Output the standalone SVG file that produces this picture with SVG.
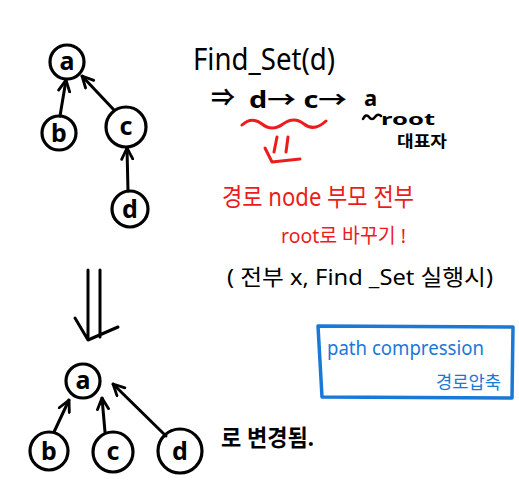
<svg xmlns="http://www.w3.org/2000/svg" width="519" height="491" viewBox="0 0 519 491">
<defs>
<style>
.nd{fill:none;stroke:#000;stroke-width:3.2}
.lb{font-family:"Noto Sans","DejaVu Sans",sans-serif;font-size:25px;font-weight:bold;fill:#000;text-anchor:middle}
.ed{fill:none;stroke:#000;stroke-width:3;stroke-linecap:round;marker-end:url(#ah)}
.tx{font-family:"Noto Sans","Noto Sans CJK KR","DejaVu Sans",sans-serif;fill:#000}
.red{fill:#ec1c1c}
.blue{fill:#1a78d6}
.stk{fill:none;stroke-linecap:round;stroke-linejoin:round}
</style>
<marker id="ah" viewBox="0 0 10 10" refX="9" refY="5" markerWidth="14" markerHeight="14" markerUnits="userSpaceOnUse" orient="auto">
<path d="M1,1 L9,5 L1,9" fill="none" stroke="#000" stroke-width="2" stroke-linecap="round" stroke-linejoin="round"/>
</marker>
</defs>
<rect width="519" height="491" fill="#fff"/>

<g id="connectors">
<path class="ed" d="M60,116 L66,80"/>
<path class="ed" d="M114,110 L82,76"/>
<path class="ed" d="M128,191 L127,148"/>
<path class="ed" d="M54,432 L69,400"/>
<path class="ed" d="M105,432 L102,398"/>
<path class="ed" d="M166,436 L113,384"/>
</g>

<g id="top-a"><circle class="nd" cx="67" cy="62" r="17"/><text class="lb" x="67" y="70">a</text></g>
<g id="top-b"><circle class="nd" cx="59" cy="133" r="17"/><text class="lb" x="59" y="142">b</text></g>
<g id="top-c"><circle class="nd" cx="126" cy="127" r="20"/><text class="lb" x="126" y="135">c</text></g>
<g id="top-d"><circle class="nd" cx="130" cy="209" r="18"/><text class="lb" x="130" y="218">d</text></g>

<g id="bot-a"><circle class="nd" cx="83" cy="381" r="17"/><text class="lb" x="83" y="389">a</text></g>
<g id="bot-b"><circle class="nd" cx="49" cy="451" r="19"/><text class="lb" x="49" y="460">b</text></g>
<g id="bot-c"><circle class="nd" cx="113" cy="452" r="20"/><text class="lb" x="113" y="460">c</text></g>
<g id="bot-d"><circle class="nd" cx="180" cy="451" r="22"/><text class="lb" x="180" y="460">d</text></g>

<g id="big-down-arrow" class="stk" stroke="#000" stroke-width="3">
<path d="M88,270 L88,337 M100,270 L100,337 M75,318 L88,340 L118,327"/>
</g>

<g id="find-set">
<text class="tx" x="193" y="70" font-size="31" textLength="142" lengthAdjust="spacingAndGlyphs">Find_Set(d)</text>
<text class="tx" x="211" y="106" font-size="24" font-weight="bold">⇒</text>
<text class="tx" x="249" y="108" font-size="23" font-weight="bold" textLength="98" lengthAdjust="spacingAndGlyphs">d→ c→</text>
<text class="tx" x="364" y="106" font-size="22" font-weight="bold">a</text>
<path class="stk" stroke="#000" stroke-width="2.5" d="M363,119 Q366,113 369,117 T375,117 T381,116"/>
<text class="tx" x="381" y="125" font-size="16" font-weight="bold" textLength="54" lengthAdjust="spacingAndGlyphs">root</text>
<text class="tx" x="397" y="147" font-size="16" font-weight="bold" textLength="50" lengthAdjust="spacingAndGlyphs">대표자</text>
</g>

<g id="red-note" class="stk" stroke="#ec1c1c" stroke-width="3">
<path d="M242,125 Q252,116 262,124 T283,124 T304,124 T326,121"/>
<path d="M277,137 L274,152 M288,137 L286,152 M265,148 L272,162 L300,159"/>
</g>
<text class="tx red" x="222" y="206" font-size="25" textLength="192" lengthAdjust="spacingAndGlyphs">경로 node 부모 전부</text>
<text class="tx red" x="281" y="243" font-size="20" textLength="125" lengthAdjust="spacingAndGlyphs">root로 바꾸기 !</text>
<text class="tx" x="227" y="285" font-size="22" textLength="266" lengthAdjust="spacingAndGlyphs">( 전부 x, Find _Set 실행시)</text>

<text class="tx" x="221" y="446" font-size="23" font-weight="bold" textLength="93" lengthAdjust="spacingAndGlyphs">로 변경됨.</text>

<g id="path-compression-box">
<path d="M318,326 L513,327 L512,398 L322,397 Z" fill="none" stroke="#1a78d6" stroke-width="3.5" stroke-linejoin="round"/>
<text class="tx blue" x="327" y="355" font-size="20" textLength="157" lengthAdjust="spacingAndGlyphs">path compression</text>
<text class="tx blue" x="436" y="389" font-size="18" textLength="65" lengthAdjust="spacingAndGlyphs">경로압축</text>
</g>
</svg>
